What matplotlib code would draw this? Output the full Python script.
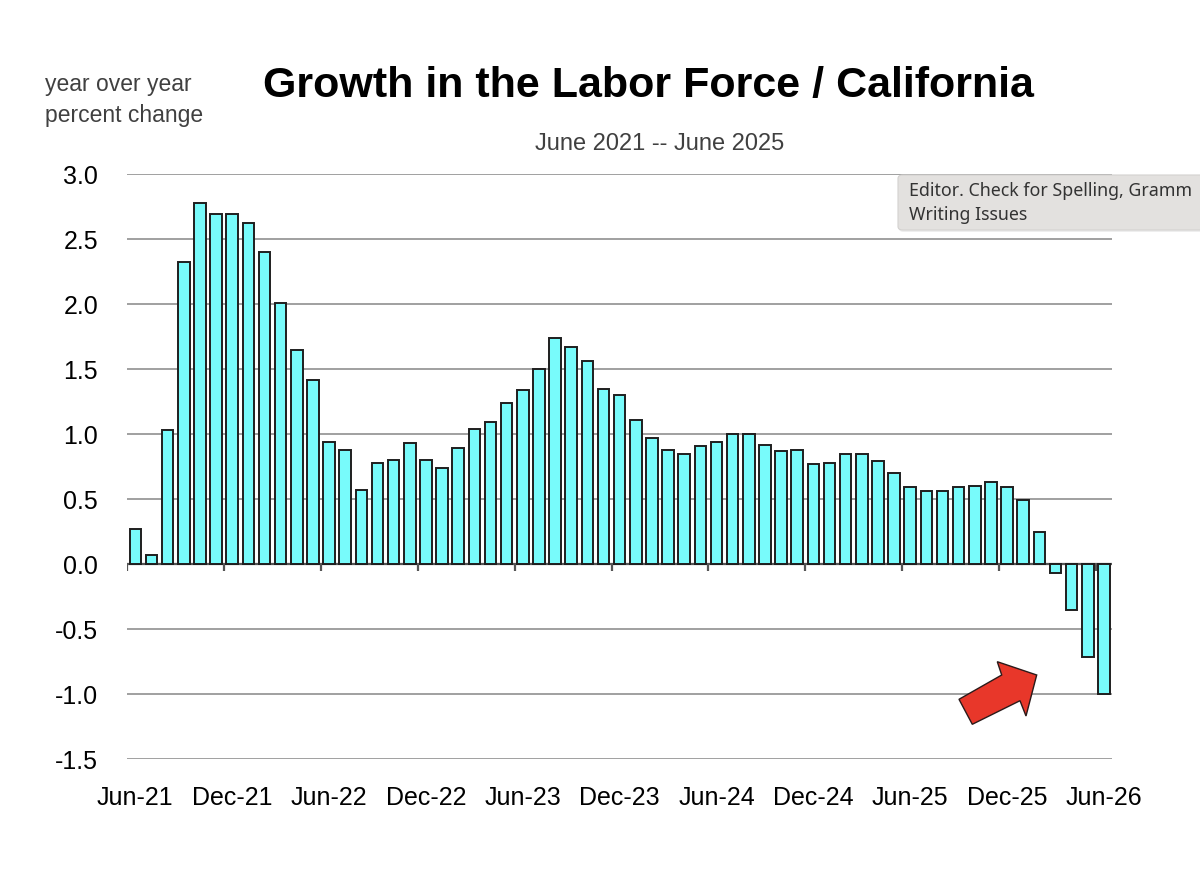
import matplotlib.pyplot as plt
import numpy as np
from matplotlib.patches import Polygon, FancyBboxPatch

# year-over-year % change in the California labor force, one bar per month
values = [0.27, 0.07, 1.03, 2.32, 2.78, 2.69, 2.69, 2.62, 2.40, 2.01,
          1.65, 1.42, 0.94, 0.88, 0.57, 0.78, 0.80, 0.93, 0.80, 0.74,
          0.89, 1.04, 1.09, 1.24, 1.34, 1.50, 1.74, 1.67, 1.56, 1.35,
          1.30, 1.11, 0.97, 0.88, 0.85, 0.91, 0.94, 1.00, 1.00, 0.92,
          0.87, 0.88, 0.77, 0.78, 0.85, 0.85, 0.79, 0.70, 0.59, 0.56,
          0.56, 0.59, 0.60, 0.63, 0.59, 0.49, 0.25, -0.07, -0.35, -0.71,
          -1.00]
tick_labels = ['Jun-21', 'Dec-21', 'Jun-22', 'Dec-22', 'Jun-23', 'Dec-23',
               'Jun-24', 'Dec-24', 'Jun-25', 'Dec-25', 'Jun-26']
y_ticks = [3.0, 2.5, 2.0, 1.5, 1.0, 0.5, 0.0, -0.5, -1.0, -1.5]

plt.rcParams['font.family'] = ['Liberation Sans', 'DejaVu Sans']

W, H = 1200, 869
fig = plt.figure(figsize=(W / 100, H / 100), dpi=100)
ax = fig.add_axes([127.3 / W, 1 - 759.3 / H, (1112 - 127.3) / W, (759.3 - 174) / H])

x = np.arange(len(values))
ax.bar(x, values, width=0.72, color='#78FBFB', edgecolor='#1e1e1e',
       linewidth=1.4, zorder=3)

ax.set_xlim(-0.5, len(values) - 0.5)
ax.set_ylim(-1.5, 3.0)
ax.set_yticks(y_ticks)
ax.set_yticklabels([f'{v:.1f}' for v in y_ticks])
ax.tick_params(axis='y', length=0, pad=21, labelsize=18)
ax.yaxis.grid(True, color='#999999', linewidth=1.3, zorder=0)
ax.set_axisbelow(True)

# labels centred on every 6th month
ax.set_xticks(x[::6])
ax.set_xticklabels(tick_labels)
ax.tick_params(axis='x', length=0, pad=19, labelsize=18)

for s in ax.spines.values():
    s.set_visible(False)

# zero line with tick marks between categories
ax.axhline(0, color='#555555', linewidth=1.6, zorder=2)
bounds = x[::6] - 0.5
ax.vlines(bounds, -0.055, 0, color='#555555', linewidth=1.6, zorder=2)

fig.text(648 / W, 1 - 97 / H, 'Growth in the Labor Force / California',
         ha='center', va='baseline', fontsize=31, fontweight='bold')
fig.text(660 / W, 1 - 150 / H, 'June 2021 -- June 2025',
         ha='center', va='baseline', fontsize=17, color='#404040')
fig.text(45 / W, 1 - 91 / H, 'year over year', ha='left', va='baseline',
         fontsize=16.5, color='#404040')
fig.text(45 / W, 1 - 122 / H, 'percent change', ha='left', va='baseline',
         fontsize=16.5, color='#404040')

# tooltip box from the screenshot
shadow = FancyBboxPatch((899 / W, 1 - 232 / H), 320 / W, 55 / H,
                        boxstyle='round,pad=0,rounding_size=0.004',
                        transform=fig.transFigure, facecolor='#EEEEEE',
                        edgecolor='none', zorder=9)
fig.add_artist(shadow)
tip = FancyBboxPatch((898 / W, 1 - 230 / H), 320 / W, 55 / H,
                     boxstyle='round,pad=0,rounding_size=0.004',
                     transform=fig.transFigure, facecolor='#E3E1DF',
                     edgecolor='#D3D1CF', linewidth=0.8, zorder=10)
fig.add_artist(tip)
fig.text(909 / W, 1 - 196 / H, 'Editor. Check for Spelling, Gramm',
         ha='left', va='baseline', fontsize=12.8, color='#333333',
         family=['Noto Sans', 'DejaVu Sans'], zorder=11)
fig.text(909 / W, 1 - 220 / H, 'Writing Issues',
         ha='left', va='baseline', fontsize=12.8, color='#333333',
         family=['Noto Sans', 'DejaVu Sans'], zorder=11)

# red arrow
arrow_px = [(959, 699.3), (972.3, 724.3), (1020, 700.7), (1026, 716),
            (1036.7, 675), (997.3, 661.7), (1001.7, 675)]
arrow = Polygon([(px / W, 1 - py / H) for px, py in arrow_px], closed=True,
                transform=fig.transFigure, facecolor='#E8372A',
                edgecolor='#2a1a1a', linewidth=1.0, zorder=10)
fig.add_artist(arrow)

fig.savefig('out.png', dpi=100)
